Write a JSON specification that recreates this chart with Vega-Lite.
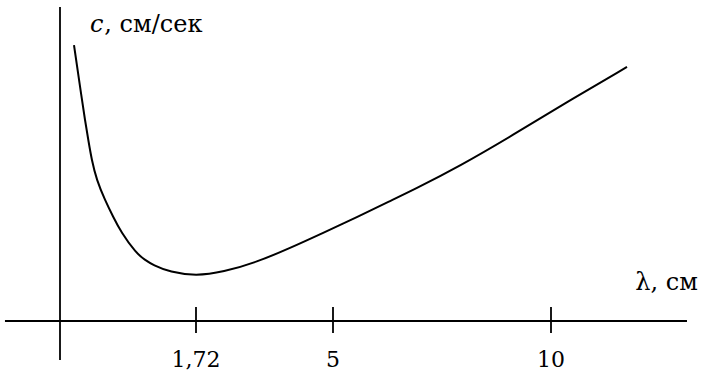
{
  "$schema": "https://vega.github.io/schema/vega-lite/v6.json",
  "width": 702,
  "height": 372,
  "padding": 0,
  "autosize": {"type": "none"},
  "background": "white",
  "config": {"view": {"stroke": null}, "text": {"font": "DejaVu Serif", "color": "black"}},
  "datasets": {
    "curve": [
      {"lambda": 0.177, "c": 141.0},
      {"lambda": 0.278, "c": 112.9},
      {"lambda": 0.316, "c": 102.7},
      {"lambda": 0.358, "c": 92.5},
      {"lambda": 0.401, "c": 82.3},
      {"lambda": 0.464, "c": 72.0},
      {"lambda": 0.569, "c": 61.8},
      {"lambda": 0.674, "c": 53.1},
      {"lambda": 0.771, "c": 45.5},
      {"lambda": 0.961, "c": 34.7},
      {"lambda": 1.075, "c": 31.2},
      {"lambda": 1.176, "c": 28.6},
      {"lambda": 1.391, "c": 25.0},
      {"lambda": 1.72, "c": 23.0},
      {"lambda": 2.366, "c": 25.0},
      {"lambda": 3.18, "c": 30.1},
      {"lambda": 3.97, "c": 37.3},
      {"lambda": 4.76, "c": 45.0},
      {"lambda": 5.55, "c": 53.1},
      {"lambda": 6.307, "c": 61.3},
      {"lambda": 6.835, "c": 66.9},
      {"lambda": 7.913, "c": 79.2},
      {"lambda": 9.128, "c": 95.0},
      {"lambda": 10.367, "c": 111.9},
      {"lambda": 11.743, "c": 129.8}
    ],
    "axes": [
      {"x1": -0.696, "x2": 13.119, "y1": 0, "y2": 0},
      {"x1": 0, "x2": 0, "y1": -19.9, "y2": 160.4}
    ],
    "ticks": [
      {"lambda": 1.72, "label": "1,72", "lo": -6.13, "hi": 7.15, "ly": -23.5},
      {"lambda": 5, "label": "5", "lo": -6.13, "hi": 7.15, "ly": -23.5},
      {"lambda": 10, "label": "10", "lo": -6.13, "hi": 7.15, "ly": -23.5}
    ],
    "xtitle": [{"lambda": 13.37, "c": 15.84, "text": "λ, см"}],
    "ytitle_sym": [{"lambda": 0.379, "c": 147.7, "text": "c"}],
    "ytitle_unit": [{"lambda": 0.56, "c": 147.7, "text": ", см/сек"}]
  },
  "layer": [
    {
      "data": {"name": "axes"},
      "mark": {"type": "rule", "color": "black", "strokeWidth": 1.8},
      "encoding": {
        "x": {"field": "x1", "type": "quantitative", "axis": null, "scale": {"type": "linear", "domain": [0, 1.72, 5, 10], "range": [60, 196, 333, 551], "nice": false, "zero": false}},
        "x2": {"field": "x2"},
        "y": {"field": "y1", "type": "quantitative", "axis": null, "scale": {"domain": [-26.06, 164.03], "nice": false, "zero": false}},
        "y2": {"field": "y2"}
      }
    },
    {
      "data": {"name": "ticks"},
      "mark": {"type": "rule", "color": "black", "strokeWidth": 1.8},
      "encoding": {
        "x": {"field": "lambda", "type": "quantitative", "axis": null},
        "y": {"field": "lo", "type": "quantitative", "axis": null},
        "y2": {"field": "hi"}
      }
    },
    {
      "data": {"name": "ticks"},
      "mark": {"type": "text", "fontSize": 22, "align": "center", "baseline": "alphabetic"},
      "encoding": {
        "x": {"field": "lambda", "type": "quantitative", "axis": null},
        "y": {"field": "ly", "type": "quantitative", "axis": null},
        "text": {"field": "label"}
      }
    },
    {
      "data": {"name": "curve"},
      "mark": {"type": "line", "interpolate": "basis", "color": "black", "strokeWidth": 2},
      "encoding": {
        "x": {"field": "lambda", "type": "quantitative", "axis": null},
        "y": {"field": "c", "type": "quantitative", "axis": null}
      }
    },
    {
      "data": {"name": "xtitle"},
      "mark": {"type": "text", "fontSize": 24, "align": "right", "baseline": "alphabetic"},
      "encoding": {
        "x": {"field": "lambda", "type": "quantitative", "axis": null},
        "y": {"field": "c", "type": "quantitative", "axis": null},
        "text": {"field": "text"}
      }
    },
    {
      "data": {"name": "ytitle_sym"},
      "mark": {"type": "text", "fontSize": 24, "fontStyle": "italic", "align": "left", "baseline": "alphabetic"},
      "encoding": {
        "x": {"field": "lambda", "type": "quantitative", "axis": null},
        "y": {"field": "c", "type": "quantitative", "axis": null},
        "text": {"field": "text"}
      }
    },
    {
      "data": {"name": "ytitle_unit"},
      "mark": {"type": "text", "fontSize": 24, "align": "left", "baseline": "alphabetic"},
      "encoding": {
        "x": {"field": "lambda", "type": "quantitative", "axis": null},
        "y": {"field": "c", "type": "quantitative", "axis": null},
        "text": {"field": "text"}
      }
    }
  ]
}
